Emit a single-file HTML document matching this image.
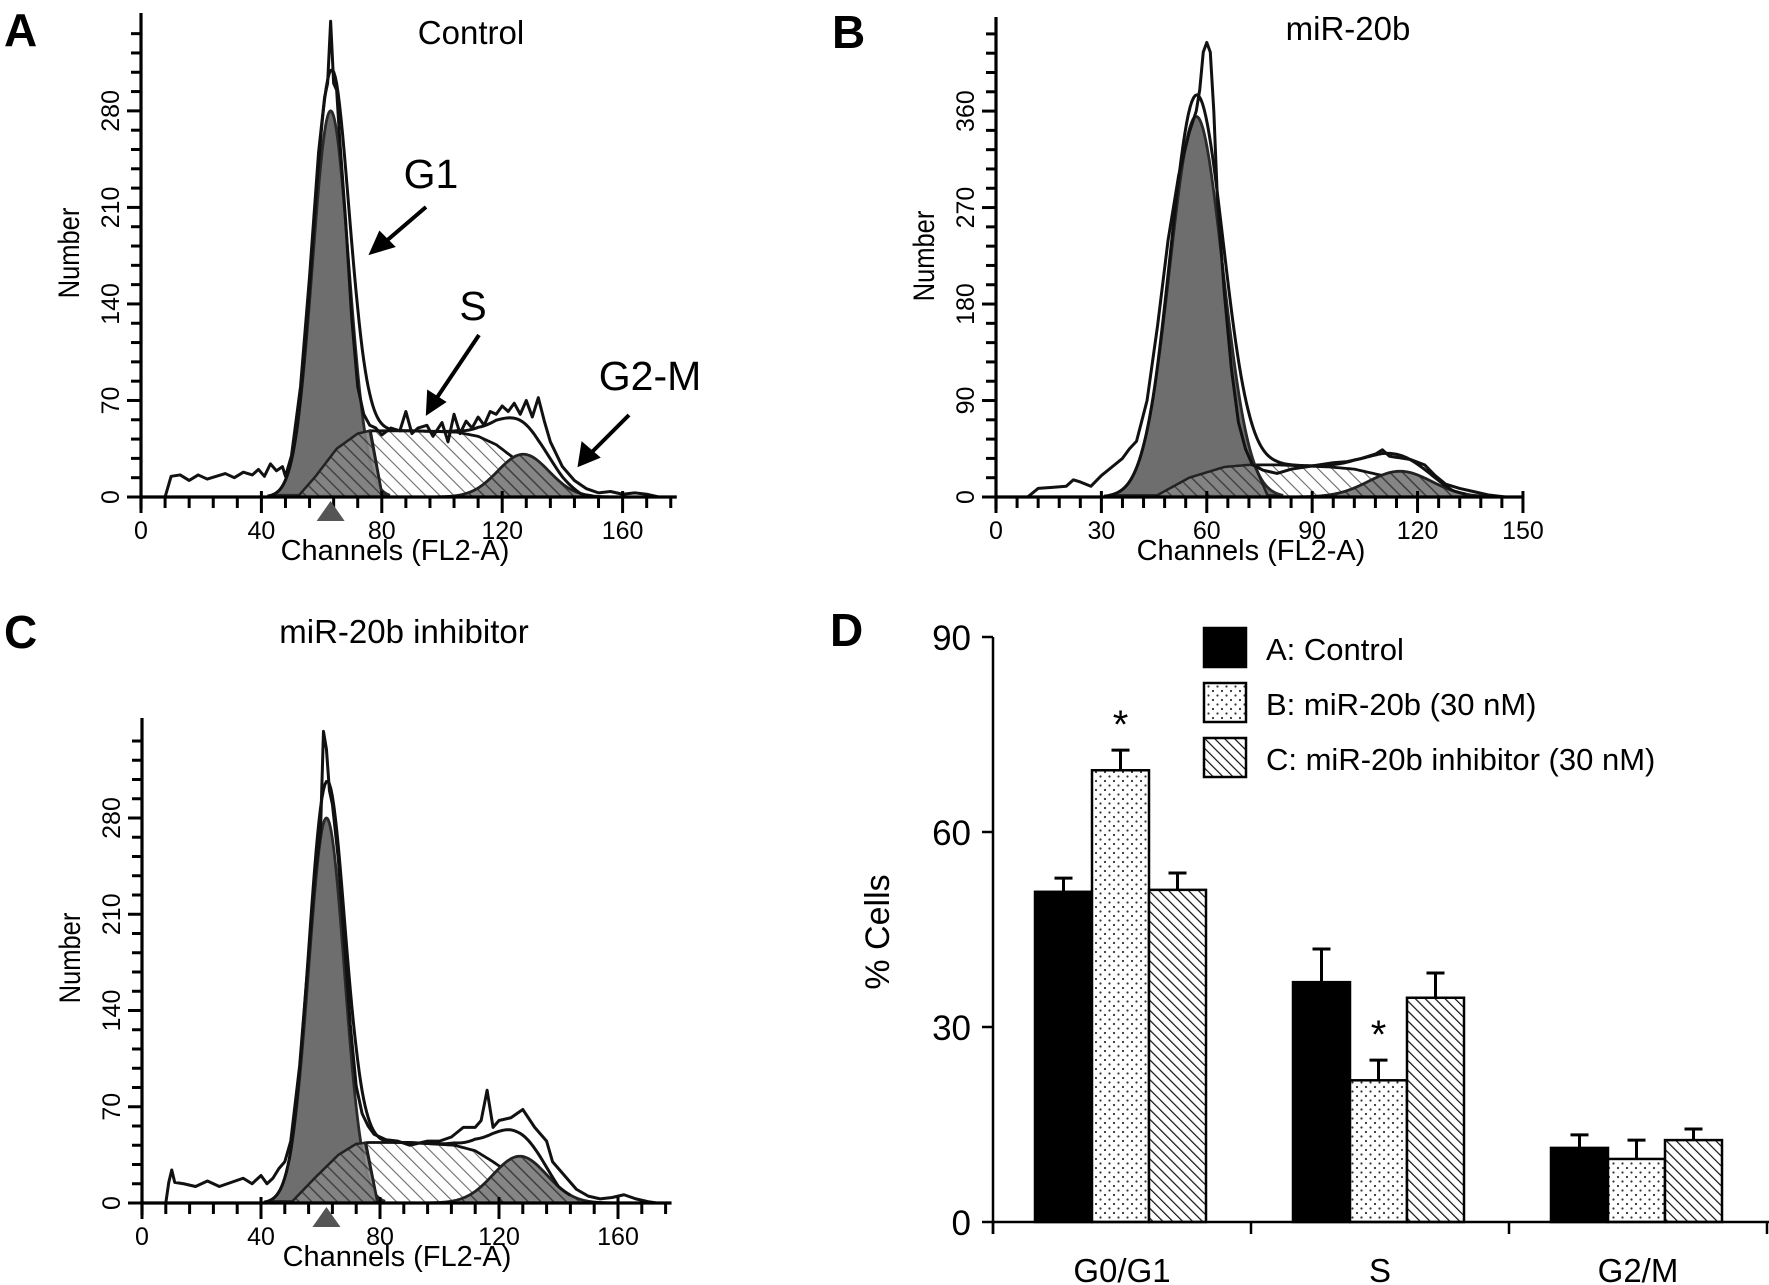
<!DOCTYPE html>
<html><head><meta charset="utf-8">
<style>
html,body{margin:0;padding:0;background:#fff;}
svg{display:block;font-family:"Liberation Sans",sans-serif;}
</style></head>
<body>
<svg id="fig" width="1769" height="1285" viewBox="0 0 1769 1285" xmlns="http://www.w3.org/2000/svg">
<defs>
<pattern id="darkHatch" width="9" height="9" patternUnits="userSpaceOnUse" patternTransform="rotate(-45)">
<rect width="9" height="9" fill="#858585"/><line x1="0" y1="0" x2="0" y2="9" stroke="#3e3e3e" stroke-width="3"/>
</pattern>
<pattern id="lightHatch" width="10" height="10" patternUnits="userSpaceOnUse" patternTransform="rotate(-45)">
<rect width="10" height="10" fill="#fff"/><line x1="0" y1="0" x2="0" y2="10" stroke="#6a6a6a" stroke-width="2.2"/>
</pattern>
<pattern id="dots" width="9" height="9" patternUnits="userSpaceOnUse">
<rect width="9" height="9" fill="#fff"/><circle cx="2.5" cy="2.5" r="1.1" fill="#333"/><circle cx="7" cy="7" r="1.1" fill="#333"/>
</pattern>
<pattern id="barHatch" width="7" height="7" patternUnits="userSpaceOnUse" patternTransform="rotate(-45)">
<rect width="7" height="7" fill="#fff"/><line x1="0" y1="0" x2="0" y2="7" stroke="#111" stroke-width="2.4"/>
</pattern>
</defs>

<text x="4" y="46" font-size="46" font-weight="bold">A</text>
<text x="832" y="48" font-size="46" font-weight="bold">B</text>
<text x="4" y="648" font-size="46" font-weight="bold">C</text>
<text x="830" y="646" font-size="46" font-weight="bold">D</text>
<text x="471" y="44" font-size="33" text-anchor="middle">Control</text>
<text x="1348" y="40" font-size="33" text-anchor="middle">miR-20b</text>
<text x="404" y="643" font-size="33" text-anchor="middle">miR-20b inhibitor</text>

<text x="431" y="188" font-size="41" text-anchor="middle">G1</text>
<text x="473" y="320" font-size="41" text-anchor="middle">S</text>
<text x="650" y="390" font-size="41" text-anchor="middle">G2-M</text>
<g stroke="#000" stroke-width="4" fill="#000">
<line x1="426" y1="207" x2="384" y2="243"/><polygon points="372,252 380,234 392,246"/>
<line x1="479" y1="335" x2="434" y2="402"/><polygon points="428,412 429,393 443,402"/>
<line x1="629" y1="415" x2="589" y2="455"/><polygon points="580,464 583,445 597,457"/>
</g>

<g id="panelA"></g>
<g id="panelB"></g>
<g id="panelC"></g>
<g id="panelD"></g>
</svg>

<script>
// ---------- Histogram data (channel, count) ----------
const aRawCh = [8,10,13,16,19,22,25,28,31,34,37,39,41,43,45,47,48,50,53,56,59,61,62,63,64,65,66,68,70,72,74,76,78,80,83,86,88,90,92,95,97,100,102,104,106,108,110,112,114,116,118,120,122,124,126,128,130,132,134,136,140,144,148,152,156,160,164,168,172];
const aRawCount = [0,15,16,12,16,13,15,17,14,18,16,20,15,24,19,22,15,30,80,160,250,290,300,345,300,295,260,200,130,80,60,52,50,45,50,48,62,46,50,52,44,54,40,60,46,55,50,58,52,62,60,66,62,68,60,70,58,72,55,40,22,12,6,3,4,2,3,2,0];
const aSCh = [52,58,65,72,76,90,105,112,118,124,132,140,146];
const aSCount = [0,15,35,46,48,48,47,44,38,28,15,5,0];
const aG1 = [63,6,280];   // mean, sd, height
const aG2 = [127,8.5,31];

const bRawCh = [9,12,16,20,22,24,27,30,33,36,38,40,43,46,49,52,55,57,58,59,60,61,62,63,65,67,69,71,73,76,80,84,88,92,96,100,104,108,110,112,114,118,122,125,128,132,136,140,145];
const bRawCount = [0,8,9,10,16,14,10,20,28,36,45,52,90,160,240,300,340,360,380,415,424,415,360,280,190,120,70,45,30,25,22,26,28,30,32,33,36,40,44,38,37,35,30,20,12,8,5,2,0];
const bSCh = [45,55,65,72,80,95,102,110,118,125,130];
const bSCount = [0,18,28,30,30,28,26,20,12,5,0];
const bG1 = [57,7.5,355];
const bG2 = [115,9,24];

const cRawCh = [8,9,10,11,14,18,22,26,30,34,37,40,42,44,46,48,50,53,56,58,60,61,62,63,64,66,68,70,72,74,76,78,82,86,90,96,100,104,108,112,114,116,118,120,124,128,132,136,138,142,146,150,154,158,162,166,170,173];
const cRawCount = [0,15,24,15,14,12,16,12,15,18,14,20,14,18,25,30,45,100,180,235,270,343,330,300,290,250,190,130,85,65,56,50,46,45,42,45,45,48,55,55,60,82,55,60,62,68,55,45,30,20,10,5,3,4,6,3,1,0];
const cSCh = [50,58,66,72,76,90,105,112,118,126,134,140];
const cSCount = [0,18,35,43,44,44,42,38,30,18,8,0];
const cG1 = [62,6,280];
const cG2 = [127,9,34];

// ---------- Bar chart data ----------
const categories = ["G0/G1","S","G2/M"];
const seriesNames = ["A: Control","B: miR-20b (30 nM)","C: miR-20b inhibitor (30 nM)"];
const controlValues = [50.8,36.9,11.4];
const mirValues = [69.5,21.8,9.7];
const inhibitorValues = [51.1,34.5,12.6];
const controlErr = [2.1,5.1,2.0];
const mirErr = [3.1,3.1,2.9];
const inhibitorErr = [2.6,3.8,1.7];
const significant = [[false,true,false],[false,true,false],[false,false,false]];
const yTicksD = [0,30,60,90];

const NS = "http://www.w3.org/2000/svg";
function mk(parent, tag, attrs, text){
  const e = document.createElementNS(NS, tag);
  for (const k in attrs) e.setAttribute(k, attrs[k]);
  if (text !== undefined) e.textContent = text;
  parent.appendChild(e);
  return e;
}
function interp(xs, ys, x){
  if (x <= xs[0] || x >= xs[xs.length-1]) return 0;
  for (let i=1;i<xs.length;i++){
    if (x <= xs[i]){ const t=(x-xs[i-1])/(xs[i]-xs[i-1]); return ys[i-1]+t*(ys[i]-ys[i-1]); }
  }
  return 0;
}
function gauss(p, x){ return p[2]*Math.exp(-0.5*Math.pow((x-p[0])/p[1],2)); }

function histogram(gid, cfg, rawCh, rawCount, sCh, sCount, g1, g2){
  const g = document.getElementById(gid);
  const sx = ch => cfg.x0 + ch*cfg.kx;
  const sy = v => cfg.y0 - v*cfg.ky;
  const split = g1[0] + 2.2*g1[1];
  let pts = [];
  for (let c=split; c<=sCh[sCh.length-1]; c+=0.5) pts.push(sx(c)+","+sy(interp(sCh,sCount,c)));
  pts.push(sx(sCh[sCh.length-1])+","+sy(0));
  pts.push(sx(split+4)+","+sy(0));
  let e = mk(g,"polygon",{points:pts.join(" "),fill:"url(#lightHatch)",stroke:"#111","stroke-width":2.8});
  
  
  pts = [];
  for (let c=g2[0]-3.5*g2[1]; c<=g2[0]+3.5*g2[1]; c+=0.5) pts.push(sx(c)+","+sy(gauss(g2,c)));
  e = mk(g,"polygon",{points:pts.join(" "),fill:"url(#darkHatch)",stroke:"#222","stroke-width":2.8});
  
  
  pts = [];
  for (let c=g1[0]-3.3*g1[1]; c<=g1[0]+3.3*g1[1]; c+=0.25) pts.push(sx(c)+","+sy(gauss(g1,c)));
  e = mk(g,"polygon",{points:pts.join(" "),fill:"#6e6e6e",stroke:"#2a2a2a","stroke-width":2.8});
  
  
  pts = [];
  for (let c=sCh[0]; c<=split; c+=0.5) pts.push(sx(c)+","+sy(interp(sCh,sCount,c)));
  pts.push(sx(split+4)+","+sy(0));
  pts.push(sx(sCh[0])+","+sy(0));
  e = mk(g,"polygon",{points:pts.join(" "),fill:"url(#darkHatch)",stroke:"#222","stroke-width":2.5,"fill-opacity":0.9});
  
  
  pts = [];
  for (let c=g1[0]-3.5*g1[1]; c<=sCh[sCh.length-1]+4; c+=0.5) pts.push(sx(c)+","+sy(gauss(g1,c)+interp(sCh,sCount,c)+gauss(g2,c)));
  e = mk(g,"polyline",{points:pts.join(" "),fill:"none",stroke:"#111","stroke-width":3});
  
  
  pts = rawCh.map((c,i)=>sx(c)+","+sy(rawCount[i]));
  e = mk(g,"polyline",{points:pts.join(" "),fill:"none",stroke:"#111","stroke-width":3,"stroke-linejoin":"round"});
  
  
  mk(g,"line",{x1:cfg.x0,y1:cfg.y0,x2:sx(cfg.xMax),y2:cfg.y0,stroke:"#000","stroke-width":3.2});
  mk(g,"line",{x1:cfg.x0,y1:cfg.y0+12,x2:cfg.x0,y2:cfg.top,stroke:"#000","stroke-width":3.2});
  for (let c=0;c<=cfg.xMax;c+=cfg.xStep){
    const major = c % cfg.xMajor === 0;
    mk(g,"line",{x1:sx(c),y1:cfg.y0-(major?6:0),x2:sx(c),y2:cfg.y0+(major?16:11),stroke:"#000","stroke-width":3});
    if (major){
      e = mk(g,"text",{x:sx(c),y:cfg.y0+42,"font-size":25,"text-anchor":"middle"},String(c));
      
      
    }
  }
  for (let v=0; sy(v)>=cfg.top+8; v+=cfg.yStep){
    const major = v % cfg.yMajor === 0;
    mk(g,"line",{x1:cfg.x0-(major?14:10),y1:sy(v),x2:cfg.x0,y2:sy(v),stroke:"#000","stroke-width":3});
    if (major){
      e = mk(g,"text",{x:0,y:0,"font-size":25,"text-anchor":"middle",transform:`translate(${cfg.x0-22},${sy(v)}) rotate(-90)`},String(v));
      
      
    }
  }
  if (cfg.tri){
    e = mk(g,"polygon",{points:`${sx(g1[0])},${cfg.y0+4} ${sx(g1[0])-14},${cfg.y0+24} ${sx(g1[0])+14},${cfg.y0+24}`,fill:"#555"});
    
    
  }
  e = mk(g,"text",{x:0,y:0,"font-size":30,"text-anchor":"middle",transform:`translate(${cfg.x0-62},${cfg.ylabY}) rotate(-90) scale(0.85,1)`},"Number");
  
  
  e = mk(g,"text",{x:cfg.xlabX,y:cfg.y0+63,"font-size":29,"text-anchor":"middle"},"Channels (FL2-A)");
  
  
}

histogram("panelA",{x0:141,kx:3.01,y0:497,ky:1.379,xMax:178,top:13,xStep:8,xMajor:40,yStep:14,yMajor:70,tri:true,ylabY:253,xlabX:395},aRawCh,aRawCount,aSCh,aSCount,aG1,aG2);
histogram("panelB",{x0:996,kx:3.513,y0:497,ky:1.072,xMax:150,top:17,xStep:6,xMajor:30,yStep:18,yMajor:90,tri:false,ylabY:256,xlabX:1251},bRawCh,bRawCount,bSCh,bSCount,bG1,bG2);
histogram("panelC",{x0:142,kx:2.975,y0:1203,ky:1.375,xMax:178,top:718,xStep:8,xMajor:40,yStep:14,yMajor:70,tri:true,ylabY:958,xlabX:397},cRawCh,cRawCount,cSCh,cSCount,cG1,cG2);

(function(){
  const g = document.getElementById("panelD");
  const X0=993, Y0=1222, KY=6.5, CW=258, BW=57, GOFF=42;
  const sy = v => Y0 - v*KY;
  const fills = ["#000","url(#dots)","url(#barHatch)"];
  const vals = [controlValues, mirValues, inhibitorValues];
  const errs = [controlErr, mirErr, inhibitorErr];
  const names = ["control","mir20b","inhibitor"];
  categories.forEach((cat,ci)=>{
    vals.forEach((arr,si)=>{
      const x = X0 + ci*CW + GOFF + si*BW;
      const top = sy(arr[ci]), et = sy(arr[ci]+errs[si][ci]);
      mk(g,"line",{x1:x+BW/2,y1:top,x2:x+BW/2,y2:et,stroke:"#000","stroke-width":3});
      mk(g,"line",{x1:x+BW/2-9,y1:et,x2:x+BW/2+9,y2:et,stroke:"#000","stroke-width":3});
      let e = mk(g,"rect",{x:x,y:top,width:BW,height:Y0-top,fill:fills[si],stroke:"#000","stroke-width":2.5});
      
      
      if (significant[ci][si]){
        e = mk(g,"text",{x:x+BW/2,y:et-12,"font-size":40,"text-anchor":"middle"},"*");
        
        
      }
    });
    let e = mk(g,"text",{x:X0+ci*CW+CW/2,y:1282,"font-size":33,"text-anchor":"middle"},cat);
    
    
  });
  mk(g,"line",{x1:X0,y1:Y0,x2:1769,y2:Y0,stroke:"#000","stroke-width":2.5});
  mk(g,"line",{x1:X0,y1:Y0+12,x2:X0,y2:sy(90),stroke:"#000","stroke-width":2.5});
  for (let i=0;i<=3;i++) mk(g,"line",{x1:X0+i*CW,y1:Y0,x2:X0+i*CW,y2:Y0+12,stroke:"#000","stroke-width":2.5});
  yTicksD.forEach(v=>{
    mk(g,"line",{x1:X0-11,y1:sy(v),x2:X0,y2:sy(v),stroke:"#000","stroke-width":2.5});
    let e = mk(g,"text",{x:X0-22,y:sy(v)+13,"font-size":35,"text-anchor":"end"},String(v));
    
    
  });
  let e = mk(g,"text",{x:0,y:0,"font-size":34,"text-anchor":"middle",transform:"translate(889,932) rotate(-90)"},"% Cells");
  
  
  seriesNames.forEach((n,si)=>{
    const y = 628 + si*55;
    let r = mk(g,"rect",{x:1204,y:y,width:42,height:39,fill:fills[si],stroke:"#000","stroke-width":2.5});
    
    
    let t = mk(g,"text",{x:1266,y:y+32,"font-size":31},n);
    
    
  });
})();
</script>
</body></html>
